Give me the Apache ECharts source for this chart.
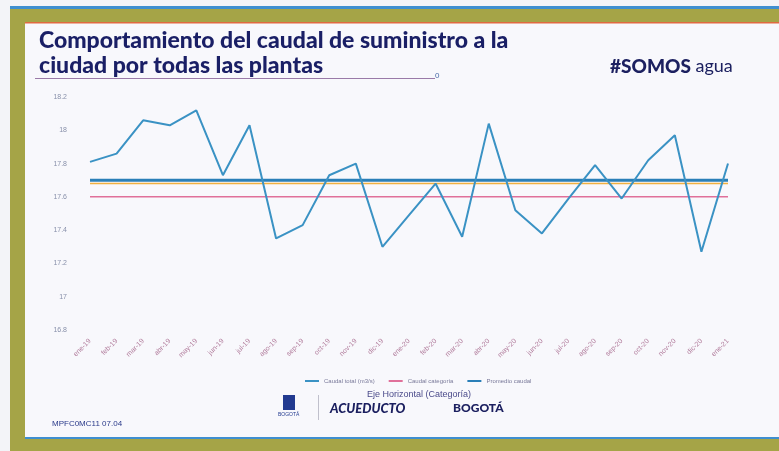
<!DOCTYPE html>
<html><head><meta charset="utf-8">
<script src="https://cdn.jsdelivr.net/npm/echarts@6/dist/echarts.min.js"></script>
<style>html,body{margin:0;padding:0;background:#f6f7fb}#c{width:779px;height:451px}</style>
</head><body><div id="c"></div>
<script>
const categories = ['ene-19','feb-19','mar-19','abr-19','may-19','jun-19','jul-19','ago-19','sep-19','oct-19','nov-19','dic-19','ene-20','feb-20','mar-20','abr-20','may-20','jun-20','jul-20','ago-20','sep-20','oct-20','nov-20','dic-20','ene-21'];
const caudal = [17.81,17.86,18.06,18.03,18.12,17.73,18.03,17.35,17.43,17.73,17.80,17.30,17.49,17.68,17.36,18.04,17.52,17.38,17.59,17.79,17.59,17.82,17.97,17.27,17.80];
const promedio = 17.70;
const categoria = 17.68;
const referencia = 17.60;
const yTicks = {min:16.8, max:18.2, interval:0.2};

const chart = echarts.init(document.getElementById('c'), null, {renderer:'canvas'});
const flat = v => categories.map(() => v);
chart.setOption({
  backgroundColor:'#f7f8fc',
  animation:false,
  graphic:[
    {type:'rect', shape:{x:0,y:0,width:779,height:451}, style:{fill:'#f3f4f8'}, z:-10},
    {type:'rect', shape:{x:10,y:6,width:779,height:446}, style:{fill:'#a5a447'}, z:-9},
    {type:'rect', shape:{x:10,y:6,width:779,height:3}, style:{fill:'#3f8fd0'}, z:-8},
    {type:'rect', shape:{x:25,y:23,width:760,height:415}, style:{fill:'#f8f8fc'}, z:-8},
    {type:'rect', shape:{x:25,y:22,width:760,height:1.5}, style:{fill:'#e06a40'}, z:-7},
    {type:'rect', shape:{x:25,y:437,width:760,height:2}, style:{fill:'#3f8fd0'}, z:-7},
    {type:'rect', shape:{x:35,y:78,width:400,height:1}, style:{fill:'#9a7aa8'}, z:1},
    {type:'text', left:435, top:72, style:{text:'0', fill:'#4a6aa8', font:'8px Liberation Sans'}},
    {type:'text', left:610, top:57, style:{rich:{a:{font:'900 19px Lato', fill:'#1c2060'}, b:{font:'18px Lato', fill:'#1c2060'}}, text:'{a|#SOMOS}{b| agua}'}},
    {type:'text', left:52, top:420, style:{text:'MPFC0MC11 07.04', fill:'#2a3a8a', font:'8px Liberation Sans'}},
    {type:'rect', shape:{x:283,y:395,width:12,height:15}, style:{fill:'#223a90'}},
    {type:'text', left:278, top:412, style:{text:'BOGOTÁ', fill:'#223a90', font:'5px Liberation Sans'}},
    {type:'rect', shape:{x:318,y:395,width:1,height:25}, style:{fill:'#c0c0cc'}},
    {type:'text', left:330, top:402, style:{text:'ACUEDUCTO', fill:'#1c2060', font:'900 italic 13px Lato'}},
    {type:'text', left:453, top:402, style:{text:'BOGOTÁ', fill:'#1c2060', font:'900 12px Lato'}},
    {type:'text', left:367, top:390, style:{text:'Eje Horizontal (Categoría)', fill:'#4a4a8a', font:'9px Liberation Sans'}}
  ],
  title:{
    text:'Comportamiento del caudal de suministro a la\nciudad por todas las plantas',
    left:34, top:23,
    textStyle:{color:'#1a1f66', fontFamily:'Lato', fontWeight:900, fontSize:23, lineHeight:25}
  },
  legend:{
    left:300, top:373, itemWidth:14, itemHeight:2, itemGap:14,
    textStyle:{fontSize:6, color:'#7a7a9a', fontFamily:'Liberation Sans'},
    data:[{name:'Caudal total (m3/s)', icon:'rect'},{name:'Caudal categoría', icon:'rect'},{name:'Promedio caudal', icon:'rect'}]
  },
  grid:{left:90, right:51, top:97, bottom:121, containLabel:false},
  xAxis:{
    type:'category', data:categories, boundaryGap:false,
    axisLine:{show:false}, axisTick:{show:false},
    axisLabel:{rotate:45, fontSize:7, color:'#b07a9a', margin:10, fontFamily:'Liberation Sans'}
  },
  yAxis:{
    type:'value', min:yTicks.min, max:yTicks.max, interval:yTicks.interval,
    axisLine:{show:false}, axisTick:{show:false}, splitLine:{show:false},
    axisLabel:{fontSize:7, color:'#8890aa', margin:23, fontFamily:'Liberation Sans'}
  },
  series:[
    {name:'Caudal categoría', type:'line', data:flat(referencia), symbol:'none', lineStyle:{color:'#e0709a', width:1.5}, itemStyle:{color:'#e0709a'}},
    {name:'Orange', type:'line', data:flat(categoria), symbol:'none', lineStyle:{color:'#f0b040', width:1.5}},
    {name:'Promedio caudal', type:'line', data:flat(promedio), symbol:'none', lineStyle:{color:'#2a7fb8', width:3}, itemStyle:{color:'#2a7fb8'}},
    {name:'Caudal total (m3/s)', type:'line', data:caudal, symbol:'none', lineStyle:{color:'#3a92c4', width:2}, itemStyle:{color:'#3a92c4'}}
  ]
});
</script></body></html>
